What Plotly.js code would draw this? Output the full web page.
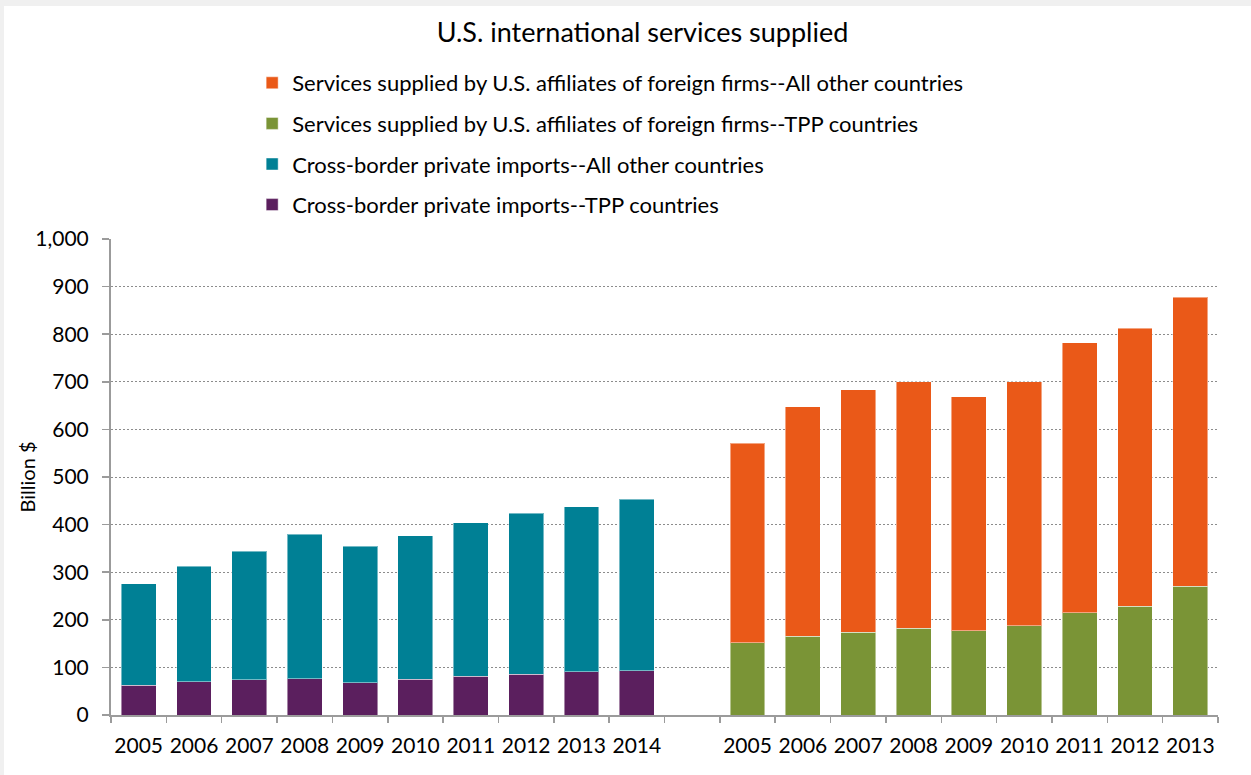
<!DOCTYPE html>
<html>
<head>
<meta charset="utf-8">
<script src="https://cdn.plot.ly/plotly-3.0.1.min.js"></script>
<style>
  html, body { margin: 0; padding: 0; background: #f0f0f0; width: 1251px; height: 775px; overflow: hidden; }
  #chart { position: absolute; left: 4px; top: 6px; width: 1247px; height: 769px; background: #fff; }
</style>
</head>
<body>
<div id="chart"></div>
<script>
// ---- data ----
const importYears = ['2005','2006','2007','2008','2009','2010','2011','2012','2013','2014'];
const affiliateYears = ['2005','2006','2007','2008','2009','2010','2011','2012','2013'];
const importsTPP = [63, 70, 74, 76.5, 68, 75, 81, 86, 90.5, 93];
const importsOther = [213, 243, 270, 303.5, 286.5, 302, 323, 338, 347.5, 360];
const affiliatesTPP = [152, 165, 174, 182, 177.5, 188, 215, 228, 270];
const affiliatesOther = [419, 483, 509, 518, 491, 512, 567, 585, 608];
const seriesNames = [
  'Cross-border private imports--TPP countries',
  'Cross-border private imports--All other countries',
  'Services supplied by U.S. affiliates of foreign firms--TPP countries',
  'Services supplied by U.S. affiliates of foreign firms--All other countries'
];
const yTickVals = [0,100,200,300,400,500,600,700,800,900,1000];
const yTickText = ['0','100','200','300','400','500','600','700','800','900','1,000'];

// category ids (unique) and labels
const leftIds = importYears.map(y => 'imp' + y);
const rightIds = affiliateYears.map(y => 'aff' + y);
const allIds = leftIds.concat(['gap']).concat(rightIds);
const allLabels = importYears.concat(['']).concat(affiliateYears);

const colors = ['#5b1f5e', '#008095', '#7a9436', '#ea5918'];
const FONT = 'Lato, "Open Sans", sans-serif';
const edge = {color: 'rgba(255,255,255,0.45)', width: 1};

function bar(x, y, i) {
  return {
    type: 'bar', x: x, y: y, name: seriesNames[i],
    marker: {color: colors[i], line: edge},
    legendgroup: 'g' + i, legendrank: 1000 - i, hoverinfo: 'x+y+name'
  };
}

const data = [
  bar(leftIds, importsTPP, 0),
  bar(leftIds, importsOther, 1),
  bar(rightIds, affiliatesTPP, 2),
  bar(rightIds, affiliatesOther, 3)
];

const axisGray = '#9b9b9b';
const layout = {
  width: 1247, height: 769,
  paper_bgcolor: '#ffffff', plot_bgcolor: '#ffffff',
  margin: {l: 107, r: 33, t: 233, b: 60, autoexpand: false},
  barmode: 'stack', bargap: 0.37,
  font: {family: FONT, size: 21, color: '#000'},
  title: {
    text: 'U.S. international services supplied',
    font: {family: FONT, size: 27, color: '#000'},
    x: 0.512, xref: 'container', xanchor: 'center',
    y: 1 - 27/769, yref: 'container', yanchor: 'middle'
  },
  showlegend: true,
  legend: {
    traceorder: 'grouped', tracegroupgap: 9,
    x: 0.199, xref: 'container', xanchor: 'left',
    y: 1 - 56/769, yref: 'container', yanchor: 'top',
    font: {family: FONT, size: 22, color: '#000'},
    bgcolor: 'rgba(0,0,0,0)', itemwidth: 30
  },
  xaxis: {
    type: 'category', categoryorder: 'array', categoryarray: allIds,
    tickmode: 'array', tickvals: allIds, ticktext: allLabels, tickangle: 0,
    tickson: 'boundaries', range: [-0.5, 19.5],
    showline: true, linecolor: axisGray, linewidth: 2,
    ticks: 'outside', ticklen: 6, tickwidth: 1.5, tickcolor: axisGray,
    showgrid: false, zeroline: false,
    tickfont: {family: FONT, size: 21, color: '#000'},
    ticklabelstandoff: 11, fixedrange: true
  },
  yaxis: {
    range: [0, 1000], tickmode: 'array', tickvals: yTickVals, ticktext: yTickText,
    showline: true, linecolor: axisGray, linewidth: 2,
    ticks: 'outside', ticklen: 7, tickwidth: 1.5, tickcolor: axisGray,
    showgrid: true, gridcolor: '#8c8c8c', gridwidth: 1, griddash: '2px,2px',
    zeroline: false,
    tickfont: {family: FONT, size: 21, color: '#000'},
    ticklabelstandoff: 9, fixedrange: true
  },
  annotations: [{
    text: 'Billion $', textangle: -90, showarrow: false,
    xref: 'paper', yref: 'paper', x: -0.0755, y: 0.5,
    xanchor: 'center', yanchor: 'middle',
    font: {family: FONT, size: 20, color: '#000'}
  }]
};

Plotly.newPlot('chart', data, layout, {displayModeBar: false, staticPlot: true});
</script>
</body>
</html>
